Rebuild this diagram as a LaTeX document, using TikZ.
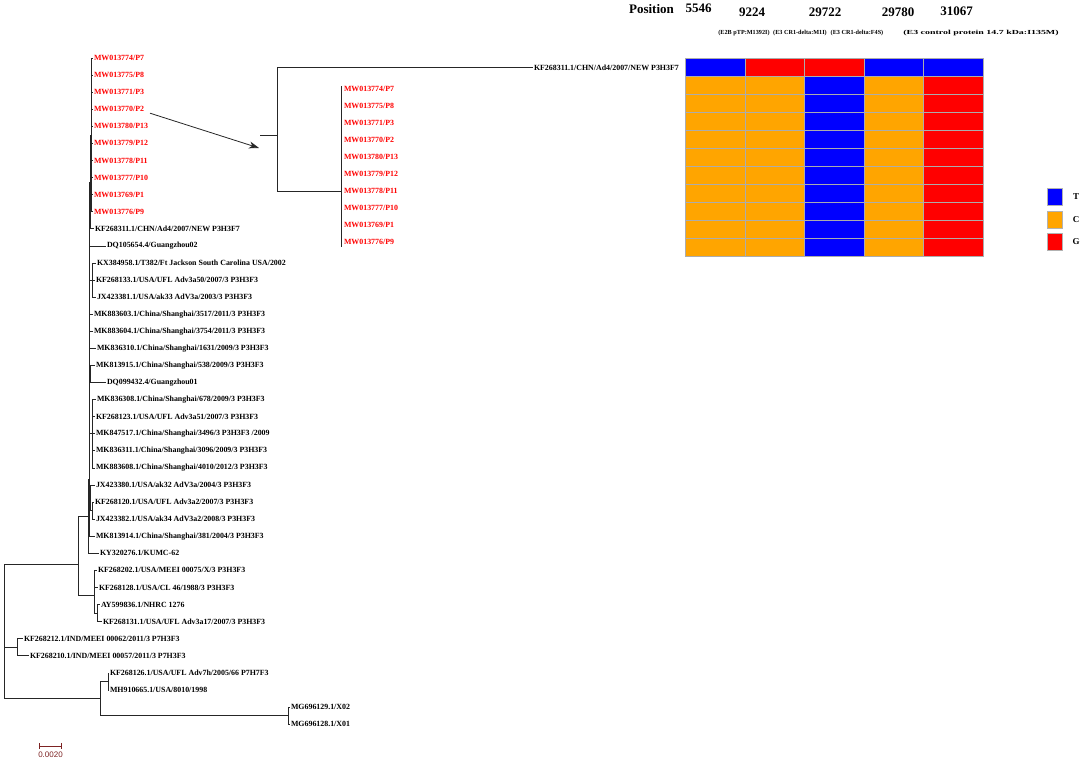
\documentclass[tikz,border=0pt]{standalone}
\usepackage{fontspec}
\setmainfont{Liberation Serif}
\newfontfamily\barfont{Liberation Sans}
\usetikzlibrary{arrows.meta}
\definecolor{hmblue}{RGB}{0,0,255}
\definecolor{hmorange}{RGB}{255,165,0}
\definecolor{hmred}{RGB}{255,0,0}
\definecolor{barbrown}{RGB}{125,35,35}

\begin{document}
\begin{tikzpicture}[x=1pt,y=-1pt,
  leaf/.style={anchor=west,inner sep=0.8pt,font=\fontsize{7.9}{8}\selectfont\bfseries},
  redleaf/.style={leaf,text=red},
  br/.style={line width=0.8pt,black!85},
  cell/.style={draw=gray!65,line width=0.8pt,minimum width=59.6pt,minimum height=18pt,inner sep=0pt,anchor=north west},
  key/.style={draw=gray!60,line width=0.6pt,minimum width=15pt,minimum height=17pt,inner sep=0pt},
  keytxt/.style={font=\fontsize{9}{9}\selectfont\bfseries},
  head/.style={font=\fontsize{13}{13}\selectfont\bfseries},
  note/.style={font=\fontsize{6.2}{6.2}\selectfont\bfseries}]
\useasboundingbox (0,0) rectangle (1084,762);

\node[redleaf] (p7) at (93,58.0) {MW013774/P7};
\node[redleaf] (p8) at (93,75.1) {MW013775/P8};
\node[redleaf] (p3) at (93,92.2) {MW013771/P3};
\node[redleaf] (p2) at (93,109.2) {MW013770/P2};
\node[redleaf] (p13) at (93,126.3) {MW013780/P13};
\node[redleaf] (p12) at (93,143.4) {MW013779/P12};
\node[redleaf] (p11) at (93,160.5) {MW013778/P11};
\node[redleaf] (p10) at (93,177.6) {MW013777/P10};
\node[redleaf] (p1) at (93,194.6) {MW013769/P1};
\node[redleaf] (p9) at (93,211.7) {MW013776/P9};
\node[leaf] (ad4) at (94,228.8) {KF268311.1/CHN/Ad4/2007/NEW P3H3F7};
\node[leaf] (gz02) at (106,245.9) {DQ105654.4/Guangzhou02};
\node[leaf] (kx958) at (96,263.0) {KX384958.1/T382/Ft Jackson South Carolina USA/2002};
\node[leaf] (kf133) at (95,280.0) {KF268133.1/USA/UFL Adv3a50/2007/3 P3H3F3};
\node[leaf] (jx381) at (96,297.1) {JX423381.1/USA/ak33 AdV3a/2003/3 P3H3F3};
\node[leaf] (mk603) at (93,314.2) {MK883603.1/China/Shanghai/3517/2011/3 P3H3F3};
\node[leaf] (mk604) at (93,331.3) {MK883604.1/China/Shanghai/3754/2011/3 P3H3F3};
\node[leaf] (mk310) at (96,348.4) {MK836310.1/China/Shanghai/1631/2009/3 P3H3F3};
\node[leaf] (mk915) at (95,365.4) {MK813915.1/China/Shanghai/538/2009/3 P3H3F3};
\node[leaf] (gz01) at (106,382.5) {DQ099432.4/Guangzhou01};
\node[leaf] (mk308) at (96,399.6) {MK836308.1/China/Shanghai/678/2009/3 P3H3F3};
\node[leaf] (kf123) at (95,416.7) {KF268123.1/USA/UFL Adv3a51/2007/3 P3H3F3};
\node[leaf] (mk517) at (95,433.8) {MK847517.1/China/Shanghai/3496/3 P3H3F3 /2009};
\node[leaf] (mk311) at (95,450.8) {MK836311.1/China/Shanghai/3096/2009/3 P3H3F3};
\node[leaf] (mk608) at (95,467.9) {MK883608.1/China/Shanghai/4010/2012/3 P3H3F3};
\node[leaf] (jx380) at (95,485.0) {JX423380.1/USA/ak32 AdV3a/2004/3 P3H3F3};
\node[leaf] (kf120) at (94,502.1) {KF268120.1/USA/UFL Adv3a2/2007/3 P3H3F3};
\node[leaf] (jx382) at (95,519.2) {JX423382.1/USA/ak34 AdV3a2/2008/3 P3H3F3};
\node[leaf] (mk914) at (95,536.2) {MK813914.1/China/Shanghai/381/2004/3 P3H3F3};
\node[leaf] (ky276) at (99,553.3) {KY320276.1/KUMC-62};
\node[leaf] (kf202) at (97,570.4) {KF268202.1/USA/MEEI 00075/X/3 P3H3F3};
\node[leaf] (kf128) at (98,587.5) {KF268128.1/USA/CL 46/1988/3 P3H3F3};
\node[leaf] (ay836) at (100,604.6) {AY599836.1/NHRC 1276};
\node[leaf] (kf131) at (102,621.6) {KF268131.1/USA/UFL Adv3a17/2007/3 P3H3F3};
\node[leaf] (kf212) at (23,638.7) {KF268212.1/IND/MEEI 00062/2011/3 P7H3F3};
\node[leaf] (kf210) at (29,655.8) {KF268210.1/IND/MEEI 00057/2011/3 P7H3F3};
\node[leaf] (kf126) at (109,672.9) {KF268126.1/USA/UFL Adv7h/2005/66 P7H7F3};
\node[leaf] (mh665) at (109,690.0) {MH910665.1/USA/8010/1998};
\node[leaf] (x02) at (290,707.0) {MG696129.1/X02};
\node[leaf] (x01) at (290,724.1) {MG696128.1/X01};

\coordinate (cr) at (91.5,135);
\coordinate (ca) at (90.2,182);
\coordinate (ck) at (92.5,280);
\coordinate (cs) at (90.7,374);
\coordinate (ct) at (92,433.8);
\coordinate (cv) at (92,510.6);
\coordinate (cu) at (90.7,497);
\coordinate (cm) at (89,479);
\coordinate (cn) at (88,516);
\coordinate (cw) at (94.5,595);
\coordinate (cx) at (97,613);
\coordinate (cp) at (78,564);
\coordinate (cq) at (17,647);
\coordinate (cl1) at (108,681);
\coordinate (cl2) at (288,715.5);
\coordinate (cl) at (100,698);
\coordinate (root) at (4,647);

\foreach \n in {p7,p8,p3,p2,p13,p12,p11,p10,p1,p9} \draw[br] (cr) |- (\n.west);
\draw[br] (ca) |- (cr) (ca) |- (ad4.west);
\foreach \n in {kx958,kf133,jx381} \draw[br] (ck) |- (\n.west);
\foreach \n in {mk915,gz01} \draw[br] (cs) |- (\n.west);
\foreach \n in {mk308,kf123,mk517,mk311,mk608} \draw[br] (ct) |- (\n.west);
\foreach \n in {kf120,jx382} \draw[br] (cv) |- (\n.west);
\draw[br] (cu) |- (jx380.west) (cu) |- (cv);
\foreach \n in {ca,ck,cs,ct,cu} \draw[br] (cm) |- (\n);
\foreach \n in {gz02,mk603,mk604,mk310,mk914} \draw[br] (cm) |- (\n.west);
\draw[br] (cn) |- (cm) (cn) |- (ky276.west);
\foreach \n in {kf202,kf128} \draw[br] (cw) |- (\n.west);
\draw[br] (cw) |- (cx);
\foreach \n in {ay836,kf131} \draw[br] (cx) |- (\n.west);
\draw[br] (cp) |- (cn) (cp) |- (cw);
\foreach \n in {kf212,kf210} \draw[br] (cq) |- (\n.west);
\foreach \n in {kf126,mh665} \draw[br] (cl1) |- (\n.west);
\foreach \n in {x02,x01} \draw[br] (cl2) |- (\n.west);
\draw[br] (cl) |- (cl1) (cl) |- (cl2);
\draw[br] (root) |- (cp) (root) |- (cq) (root) |- (cl);

\node[leaf] (iad4) at (533,67.5) {KF268311.1/CHN/Ad4/2007/NEW P3H3F7};
\node[redleaf] (ip7) at (343,89) {MW013774/P7};
\node[redleaf] (ip8) at (343,106) {MW013775/P8};
\node[redleaf] (ip3) at (343,123) {MW013771/P3};
\node[redleaf] (ip2) at (343,140) {MW013770/P2};
\node[redleaf] (ip13) at (343,157) {MW013780/P13};
\node[redleaf] (ip12) at (343,174) {MW013779/P12};
\node[redleaf] (ip11) at (343,191) {MW013778/P11};
\node[redleaf] (ip10) at (343,208) {MW013777/P10};
\node[redleaf] (ip1) at (343,225) {MW013769/P1};
\node[redleaf] (ip9) at (343,242) {MW013776/P9};
\coordinate (iroot) at (260,135);
\coordinate (iq) at (277,135);
\coordinate (iq2) at (341,191);
\coordinate (itop) at (341,86);
\coordinate (ibot) at (341,247);
\draw[br] (iroot) -- (iq);
\draw[br] (iq) |- (iad4.west) (iq) |- (iq2);
\draw[br] (itop) -- (ibot);
\coordinate (arr) at (259,148);
\draw[br,-{Stealth[length=10pt,width=7pt,inset=3pt]}] ([shift={(5,4)}]p2.east) -- (arr);

\foreach \c [count=\j from 0] in {hmblue,hmred,hmred,hmblue,hmblue}
  \node[cell,fill=\c] (h0\j) at (685+59.6*\j,58) {};
\foreach \r in {1,...,10}
  \foreach \c [count=\j from 0] in {hmorange,hmorange,hmblue,hmorange,hmred}
    \node[cell,fill=\c] (h\r\j) at (685+59.6*\j,58+18*\r) {};

\node[head] (pos) at (651.5,9) {Position};
\node[head] (s1) at (698.5,8) {5546};
\node[head] (s2) at (752,12) {9224};
\node[head] (s3) at (825,12) {29722};
\node[head] (s4) at (898,12) {29780};
\node[head] (s5) at (956.5,11) {31067};
\node[note] (n2) at (744,33.3) {(E2B pTP:M1392I)};
\node[note] (n3) at (800,33.3) {(E3 CR1-delta:M1I)};
\node[note] (n4) at (857,33.3) {(E3 CR1-delta:F4S)};
\node[note] (n5) at (981,33.3) {\scalebox{1.6}[1]{(E3 control protein 14.7 kDa:I135M)}};

\node[key,fill=hmblue] (kt) at (1054.5,196.5) {};
\node[key,fill=hmorange] (kc) at (1054.5,219.5) {};
\node[key,fill=hmred] (kg) at (1054.5,241.5) {};
\node[keytxt] (lt) at (1076,197) {T};
\node[keytxt] (lc) at (1076,219.5) {C};
\node[keytxt] (lg) at (1076,242) {G};

\coordinate (sb1) at (39,746);
\coordinate (sb2) at (62,746);
\draw[barbrown,line width=0.8pt,|-|] (sb1) -- (sb2);
\node[font=\barfont\fontsize{8}{8}\selectfont,text=barbrown] (sbl) at (50.5,754.5) {0.0020};
\end{tikzpicture}
\end{document}
